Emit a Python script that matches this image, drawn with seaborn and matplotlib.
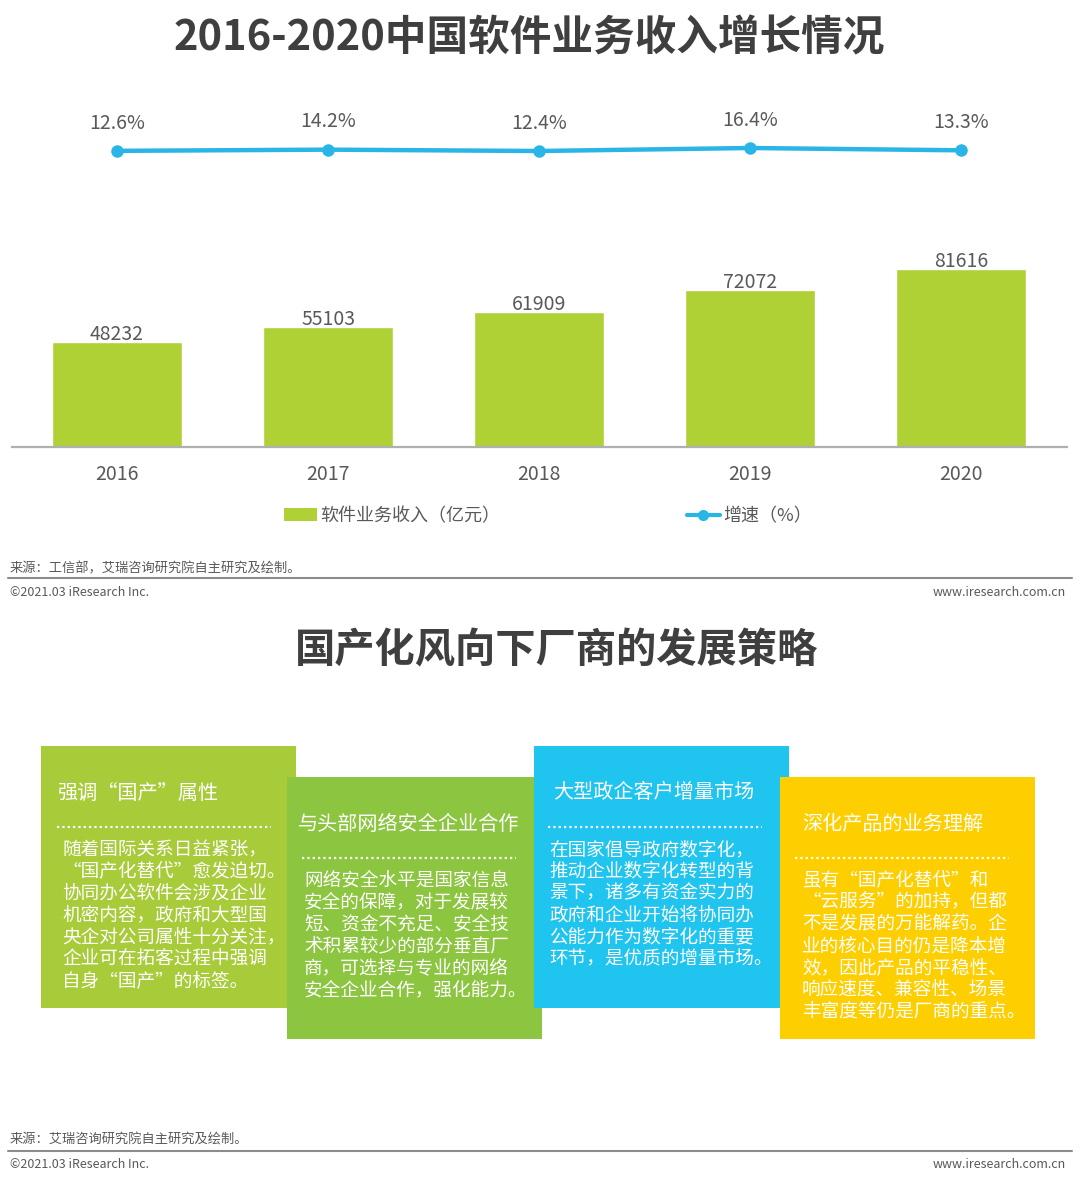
import numpy as np
import pandas as pd
import matplotlib
matplotlib.use("Agg")
import matplotlib.pyplot as plt
import seaborn as sns
from matplotlib.patches import Rectangle, Patch
from matplotlib.lines import Line2D

# ---------------- data ----------------
years = ["2016", "2017", "2018", "2019", "2020"]
revenue = [48232, 55103, 61909, 72072, 81616]
growth = [12.6, 14.2, 12.4, 16.4, 13.3]

title1 = "2016-2020中国软件业务收入增长情况"
legend_labels = ["软件业务收入（亿元）", "增速（%）"]
source1 = "来源：工信部，艾瑞咨询研究院自主研究及绘制。"
title2 = "国产化风向下厂商的发展策略"
source2 = "来源：艾瑞咨询研究院自主研究及绘制。"
copyright_text = "©2021.03 iResearch Inc."
url_text = "www.iresearch.com.cn"

box_titles = ["强调“国产”属性", "与头部网络安全企业合作", "大型政企客户增量市场", "深化产品的业务理解"]
box_bodies = [
    ["随着国际关系日益紧张，", "“国产化替代”愈发迫切。", "协同办公软件会涉及企业", "机密内容，政府和大型国",
     "央企对公司属性十分关注，", "企业可在拓客过程中强调", "自身“国产”的标签。"],
    ["网络安全水平是国家信息", "安全的保障，对于发展较", "短、资金不充足、安全技", "术积累较少的部分垂直厂",
     "商，可选择与专业的网络", "安全企业合作，强化能力。"],
    ["在国家倡导政府数字化，", "推动企业数字化转型的背", "景下，诸多有资金实力的", "政府和企业开始将协同办",
     "公能力作为数字化的重要", "环节，是优质的增量市场。"],
    ["虽有“国产化替代”和", "“云服务”的加持，但都", "不是发展的万能解药。企", "业的核心目的仍是降本增",
     "效，因此产品的平稳性、", "响应速度、兼容性、场景", "丰富度等仍是厂商的重点。"],
]
box_colors = ["#A8CB3A", "#8CC540", "#1FC4EF", "#FDCF00"]

# ---------------- style ----------------
BAR = "#AFD135"
LINE = "#29B6E6"
TXT = "#595959"
TITLE = "#3F3F3F"

sns.set_theme(style="white")
plt.rcParams["font.family"] = ["Noto Sans CJK SC", "DejaVu Sans"]

W, H = 1080, 1186
fig = plt.figure(figsize=(W / 100, H / 100), dpi=100)

# background overlay axes in pixel coordinates
bg = fig.add_axes([0, 0, 1, 1])
bg.set_xlim(0, W)
bg.set_ylim(H, 0)
bg.axis("off")
bg.set_zorder(0)

# ---------------- top chart ----------------
ax_left, ax_right, ax_top, ax_bottom = 11.5, 1066.5, 100, 447
ax = fig.add_axes([ax_left / W, 1 - ax_bottom / H, (ax_right - ax_left) / W, (ax_bottom - ax_top) / H])
ax.set_zorder(2)
ax.patch.set_visible(False)

df = pd.DataFrame({"year": years, "revenue": revenue, "growth": growth})
sns.barplot(data=df, x="year", y="revenue", color=BAR, saturation=1, width=0.62, ax=ax)
ax.set_ylim(0, 159000)
ax.set_xlim(-0.5, 4.5)
ax.set_xlabel("")
ax.set_ylabel("")
ax.set_yticks([])
ax.tick_params(axis="x", length=0, pad=12, labelsize=14, labelcolor=TXT)
for s in ["top", "right", "left"]:
    ax.spines[s].set_visible(False)
ax.spines["bottom"].set_color("#B0B0B0")
ax.spines["bottom"].set_linewidth(1.6)
for i, v in enumerate(revenue):
    ax.annotate(f"{v}", (i, v), xytext=(0, 5), textcoords="offset points",
                ha="center", va="center", fontsize=14, color=TXT)

ax2 = ax.twinx()
ax2.set_zorder(3)
ax2.patch.set_visible(False)
sns.lineplot(x=np.arange(len(years)), y=growth, ax=ax2, color=LINE, linewidth=3.2,
             marker="o", markersize=9, markeredgewidth=0)
ax2.set_ylim(-382.3, 80.4)
ax2.set_xlim(-0.5, 4.5)
ax2.set_yticks([])
ax2.set_ylabel("")
for s in ax2.spines.values():
    s.set_visible(False)
for i, g in enumerate(growth):
    ax2.annotate(f"{g}%", (i, g), xytext=(0, 20), textcoords="offset points",
                 ha="center", va="center", fontsize=14, color=TXT)

handles = [Patch(facecolor=BAR, edgecolor="none"),
           Line2D([0], [0], color=LINE, lw=3, marker="o", markersize=8, markeredgewidth=0)]
fig.legend(handles, legend_labels, loc="center", bbox_to_anchor=(548 / W, 1 - 516 / H),
           ncol=2, frameon=False, fontsize=13, handlelength=1.85, handletextpad=0.2,
           columnspacing=10.3, labelcolor=TXT)

# titles
bg.text(529, 38, title1, ha="center", va="center", fontsize=30, fontweight="bold", color=TITLE)
bg.text(557, 651, title2, ha="center", va="center", fontsize=29, fontweight="bold", color=TITLE)

# footers
def footer(y_src, y_line, y_copy, src):
    bg.text(10, y_src, src, ha="left", va="center", fontsize=9.5, color=TXT)
    bg.plot([8, 1072], [y_line, y_line], color="#8C8C8C", lw=1.5)
    bg.text(10, y_copy, copyright_text, ha="left", va="center", fontsize=9, color=TXT)
    bg.text(1066, y_copy, url_text, ha="right", va="center", fontsize=9, color=TXT)

footer(569, 578, 592, source1)
footer(1140, 1151, 1165, source2)

# ---------------- strategy boxes ----------------
box_lefts = [41, 287, 534, 780]
box_tops = [746, 777, 746, 777]
head_dx = [16, 11, 19, 22]
body_dx = [21, 17, 15, 22]
sep_dx = [16, 15, 14, 15]
bw, bh = 255, 262
for k in range(4):
    x0, y0 = box_lefts[k], box_tops[k]
    bg.add_patch(Rectangle((x0, y0), bw, bh, facecolor=box_colors[k], edgecolor="none", zorder=1 + k))
    bg.text(x0 + head_dx[k], y0 + 47, box_titles[k], ha="left", va="center",
            fontsize=14.5, color="white", zorder=10)
    bg.plot([x0 + sep_dx[k], x0 + sep_dx[k] + 214], [y0 + 81, y0 + 81], color="white",
            lw=1.6, linestyle=(0, (1, 1.4)), zorder=10)
    for j, line in enumerate(box_bodies[k]):
        bg.text(x0 + body_dx[k], y0 + 104 + j * 21.8, line, ha="left", va="center",
                fontsize=13.4, color="white", zorder=10)

fig.savefig("out.png", dpi=100)
